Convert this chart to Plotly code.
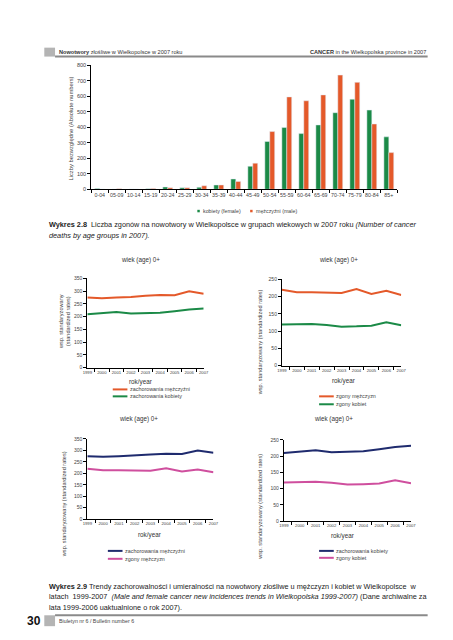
import plotly.graph_objects as go

W, H = 453, 640


def px(x):
    return x / W


def py(y):
    return 1 - y / H


FONT = "Liberation Sans, Arial, sans-serif"

# ---------------- data ----------------
age_groups = ["0-04", "05-09", "10-14", "15-19", "20-24", "25-29", "30-34", "35-39",
              "40-44", "45-49", "50-54", "55-59", "60-64", "65-69", "70-74", "75-79",
              "80-84", "85+"]
deaths_female = [6, 1, 2, 4, 15, 10, 13, 28, 67, 149, 309, 399, 360, 416, 495, 582, 512, 339]
deaths_male = [1, 3, 1, 6, 10, 10, 23, 28, 51, 169, 373, 597, 572, 610, 738, 691, 422, 237]

years = ["1999", "2000", "2001", "2002", "2003", "2004", "2005", "2006", "2007"]
incid_male = [275, 272, 275, 277, 282, 285, 284, 300, 290]
incid_female = [210, 215, 218, 212, 213, 215, 221, 228, 232]
mort_male = [220, 213, 213, 211, 211, 222, 208, 217, 205]
mort_female = [119, 119, 121, 118, 113, 114, 116, 126, 117]

GREEN = "#1b8a47"
ORANGE = "#e4592a"
NAVY = "#1f2b6e"
PINK = "#cf4f9e"

fig = go.Figure()

# bar chart
fig.add_trace(go.Bar(x=age_groups, y=deaths_female, marker_color=GREEN, name="kobiety (female)",
                     xaxis="x", yaxis="y", showlegend=False))
fig.add_trace(go.Bar(x=age_groups, y=deaths_male, marker_color=ORANGE, name="mężczyźni (male)",
                     xaxis="x", yaxis="y", showlegend=False))

# line charts
line_w = 2
fig.add_trace(go.Scatter(x=years, y=incid_male, mode="lines", line=dict(color=ORANGE, width=line_w),
                         xaxis="x2", yaxis="y2", showlegend=False))
fig.add_trace(go.Scatter(x=years, y=incid_female, mode="lines", line=dict(color=GREEN, width=line_w),
                         xaxis="x2", yaxis="y2", showlegend=False))
fig.add_trace(go.Scatter(x=years, y=mort_male, mode="lines", line=dict(color=ORANGE, width=line_w),
                         xaxis="x3", yaxis="y3", showlegend=False))
fig.add_trace(go.Scatter(x=years, y=mort_female, mode="lines", line=dict(color=GREEN, width=line_w),
                         xaxis="x3", yaxis="y3", showlegend=False))
fig.add_trace(go.Scatter(x=years, y=incid_male, mode="lines", line=dict(color=NAVY, width=line_w),
                         xaxis="x4", yaxis="y4", showlegend=False))
fig.add_trace(go.Scatter(x=years, y=mort_male, mode="lines", line=dict(color=PINK, width=line_w),
                         xaxis="x4", yaxis="y4", showlegend=False))
fig.add_trace(go.Scatter(x=years, y=incid_female, mode="lines", line=dict(color=NAVY, width=line_w),
                         xaxis="x5", yaxis="y5", showlegend=False))
fig.add_trace(go.Scatter(x=years, y=mort_female, mode="lines", line=dict(color=PINK, width=line_w),
                         xaxis="x5", yaxis="y5", showlegend=False))


def xax(x0, x1, anchor, fs):
    return dict(domain=[px(x0), px(x1)], anchor=anchor, type="category",
                showline=True, linecolor="#000", linewidth=1, ticks="outside",
                tickson="boundaries", ticklen=3, tickcolor="#000", tickwidth=1,
                tickangle=0, showgrid=False, zeroline=False, fixedrange=True,
                tickfont=dict(size=fs, color="#444", family=FONT))


def yax(y0, y1, anchor, rng, dt, fs):
    return dict(domain=[py(y0), py(y1)], anchor=anchor, range=rng, dtick=dt,
                showline=True, linecolor="#000", linewidth=1, ticks="outside",
                ticklen=3, tickcolor="#000", tickwidth=1, showgrid=False,
                zeroline=False, fixedrange=True,
                tickfont=dict(size=fs, color="#444", family=FONT))


fig.update_layout(
    width=W, height=H, margin=dict(l=0, r=0, t=0, b=0),
    paper_bgcolor="white", plot_bgcolor="white",
    font=dict(family=FONT, color="#222"),
    barmode="group", bargap=0.42, bargroupgap=0.0,
    xaxis=xax(80, 393, "y", 5.3),
    yaxis=yax(180, 55, "x", [0, 800], 100, 5.5),
    xaxis2=xax(76, 195, "y2", 4.2),
    yaxis2=yax(360, 270, "x2", [0, 350], 50, 5),
    xaxis3=xax(275, 397, "y3", 4.2),
    yaxis3=yax(358, 271, "x3", [0, 250], 50, 5),
    xaxis4=xax(76, 205, "y4", 4.2),
    yaxis4=yax(513, 432, "x4", [0, 350], 50, 5),
    xaxis5=xax(277, 407, "y5", 4.2),
    yaxis5=yax(515, 433, "x5", [0, 250], 50, 5),
)

ann = []
shapes = []


def text(x, y, t, size, color="#222", xa="left", ya="middle", angle=0):
    ann.append(dict(x=px(x), y=py(y), xref="paper", yref="paper", text=t, showarrow=False,
                    xanchor=xa, yanchor=ya, textangle=angle,
                    font=dict(size=size, color=color, family=FONT)))


# header
shapes.append(dict(type="rect", xref="paper", yref="paper", x0=px(32), x1=px(43), y0=py(46), y1=py(37),
                   fillcolor="#b4b4b4", line=dict(width=0)))
shapes.append(dict(type="line", xref="paper", yref="paper", x0=px(43), x1=px(424), y0=py(46), y1=py(46),
                   line=dict(color="#8a8a8a", width=2)))
text(45, 41.5, "<b>Nowotwory</b> złośliwe w Wielkopolsce w 2007 roku", 5.6, "#333")
text(424, 41.5, "<b>CANCER</b> in the Wielkopolska province in 2007", 5.6, "#333", xa="right")

# bar chart titles / legend
text(59, 119, "Liczby bezwzględne (Absolute numbers)", 5.8, "#444", xa="center", angle=-90)
shapes.append(dict(type="rect", xref="paper", yref="paper", x0=px(188.5), x1=px(191), y0=py(203.2), y1=py(200.7),
                   fillcolor=GREEN, line=dict(width=0)))
text(192, 202, "kobiety (female)", 5.3, "#444")
shapes.append(dict(type="rect", xref="paper", yref="paper", x0=px(242.5), x1=px(245), y0=py(203.2), y1=py(200.7),
                   fillcolor=ORANGE, line=dict(width=0)))
text(246, 202, "mężczyźni (male)", 5.3, "#444")

# caption 2.8
CAP = 7.3
text(35, 216, "<b>Wykres 2.8</b>  Liczba zgonów na nowotwory w Wielkopolsce w grupach wiekowych w 2007 roku "
              "<i>(Number of cancer</i>", CAP, "#222")
text(35, 226.5, "<i>deaths by age groups in 2007).</i>", CAP, "#222")

# line chart titles, axis titles, legends
YT = "wsp. standaryzowany (standardized rates)"
chart_meta = [
    (130, 251, 130, 375, 52, 313, "wsp. standaryzowany<br>(standardized rates)", 102, 382, 389,
     (ORANGE, GREEN), ("zachorowania mężczyźni", "zachorowania kobiety")),
    (333, 251, 338, 374, 252, 334, YT, 313, 389, 397,
     (ORANGE, GREEN), ("zgony mężczyzn", "zgony kobiet")),
    (128, 412, 140, 529, 52, 498, YT, 97, 545, 553,
     (NAVY, PINK), ("zachorowania mężczyźni", "zgony mężczyzn")),
    (328, 412, 337, 530, 253, 500, YT, 313, 545, 552,
     (NAVY, PINK), ("zachorowania kobiety", "zgony kobiet")),
]
for (tx, ty, rx, ry, yx, yy, yt, lx, l1, l2, cols, labs) in chart_meta:
    text(tx, ty, "wiek (age) 0+", 6.3, "#333", xa="center")
    text(rx, ry, "rok/year", 6.3, "#333", xa="center")
    text(yx, yy, yt, 5.6, "#444", xa="center", angle=-90)
    for yy_, c, lab in zip((l1, l2), cols, labs):
        shapes.append(dict(type="line", xref="paper", yref="paper", x0=px(lx), x1=px(lx + 15),
                           y0=py(yy_), y1=py(yy_), line=dict(color=c, width=2)))
        text(lx + 15.5, yy_, lab, 5.4, "#444")

# caption 2.9
text(35, 581, "<b>Wykres 2.9</b> Trendy zachorowalności i umieralności na nowotwory złośliwe u mężczyzn "
              "i kobiet w Wielkopolsce  w", CAP, "#222")
text(35, 591.5, "latach  1999-2007  <i>(Male and female cancer new incidences trends in Wielkopolska "
                "1999-2007)</i> (Dane archiwalne za", CAP, "#222")
text(35, 602, "lata 1999-2006 uaktualnione o rok 2007).", CAP, "#222")

# footer
shapes.append(dict(type="rect", xref="paper", yref="paper", x0=px(32), x1=px(43), y0=py(621), y1=py(610),
                   fillcolor="#b4b4b4", line=dict(width=0)))
shapes.append(dict(type="line", xref="paper", yref="paper", x0=px(43), x1=px(424), y0=py(610), y1=py(610),
                   line=dict(color="#8a8a8a", width=2)))
text(31, 616, "<b>30</b>", 12, "#111", xa="right")
text(45, 616, "Biuletyn nr 6 / Bulletin number 6", 5.3, "#444")

fig.update_layout(annotations=ann, shapes=shapes)
fig.write_html("out.html")
